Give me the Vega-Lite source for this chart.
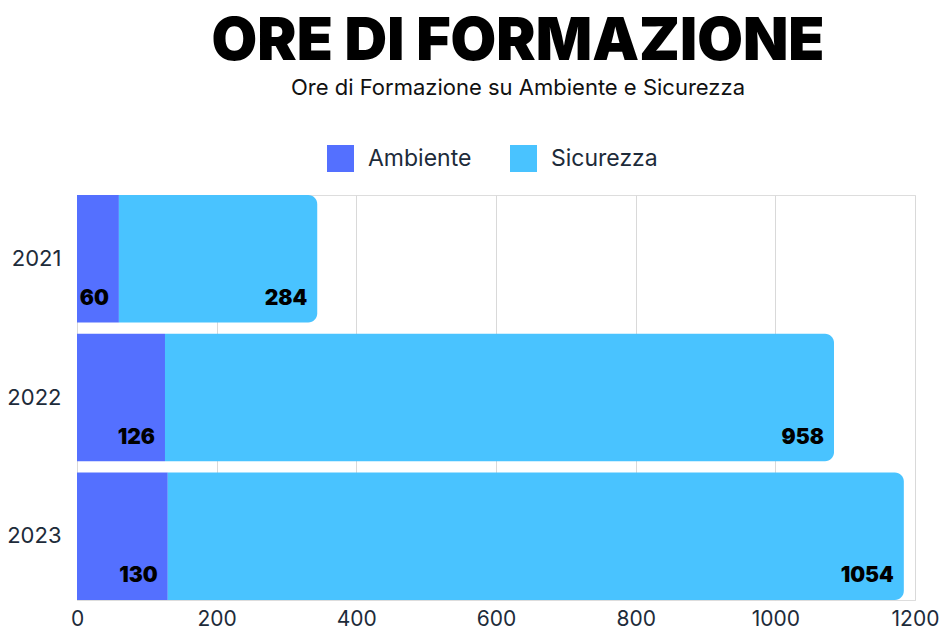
{
  "$schema": "https://vega.github.io/schema/vega-lite/v6.json",
  "width": 838,
  "height": 405,
  "autosize": {"type": "none"},
  "padding": {"left": 77, "top": 195, "right": 28, "bottom": 30},
  "background": "white",
  "title": {
    "text": "ORE DI FORMAZIONE",
    "subtitle": "Ore di Formazione su Ambiente e Sicurezza",
    "anchor": "middle",
    "dx": 22,
    "font": "Inter",
    "fontSize": 59,
    "fontWeight": 900,
    "color": "#000000",
    "subtitleFont": "Inter",
    "subtitleFontSize": 22,
    "subtitleColor": "#111111",
    "subtitlePadding": 6,
    "offset": 46
  },
  "data": {
    "values": [
      {"year": "2021", "category": "Ambiente", "value": 60, "order": 1},
      {"year": "2021", "category": "Sicurezza", "value": 284, "order": 2},
      {"year": "2022", "category": "Ambiente", "value": 126, "order": 1},
      {"year": "2022", "category": "Sicurezza", "value": 958, "order": 2},
      {"year": "2023", "category": "Ambiente", "value": 130, "order": 1},
      {"year": "2023", "category": "Sicurezza", "value": 1054, "order": 2}
    ]
  },
  "transform": [
    {"stack": "value", "groupby": ["year"], "sort": [{"field": "order", "order": "ascending"}], "as": ["x0", "x1"]}
  ],
  "encoding": {
    "y": {
      "field": "year",
      "type": "nominal",
      "sort": ["2021", "2022", "2023"],
      "scale": {"paddingInner": 0.08, "paddingOuter": 0},
      "axis": {
        "title": null,
        "domain": false,
        "ticks": false,
        "labelFont": "Inter",
        "labelFontSize": 22,
        "labelColor": "#1d2b3a",
        "labelPadding": 16
      }
    }
  },
  "layer": [
    {
      "transform": [{"filter": "datum.category === 'Ambiente'"}],
      "mark": {"type": "bar"},
      "encoding": {
        "x": {
          "field": "x0",
          "type": "quantitative",
          "scale": {"domain": [0, 1200], "nice": false},
          "axis": {
            "title": null,
            "values": [0, 200, 400, 600, 800, 1000, 1200],
            "format": "d",
            "domain": false,
            "ticks": false,
            "grid": true,
            "gridColor": "#d9d9d9",
            "gridWidth": 1,
            "labelFont": "Inter",
            "labelFontSize": 21,
            "labelColor": "#1d2b3a",
            "labelPadding": 8,
            "labelFlush": false
          }
        },
        "x2": {"field": "x1"},
        "color": {
          "field": "category",
          "type": "nominal",
          "scale": {"domain": ["Ambiente", "Sicurezza"], "range": ["#5470FF", "#49C3FF"]},
          "legend": {
            "title": null,
            "orient": "none",
            "legendX": 250,
            "legendY": -50,
            "direction": "horizontal",
            "symbolType": "square",
            "symbolSize": 729,
            "symbolStrokeWidth": 0,
            "symbolOpacity": 1,
            "labelFont": "Inter",
            "labelFontSize": 23,
            "labelColor": "#1d2b3a",
            "labelOffset": 14,
            "columnPadding": 38,
            "padding": 0
          }
        }
      }
    },
    {
      "transform": [{"filter": "datum.category === 'Sicurezza'"}],
      "mark": {"type": "bar", "cornerRadiusTopRight": 9, "cornerRadiusBottomRight": 9},
      "encoding": {
        "x": {"field": "x0", "type": "quantitative"},
        "x2": {"field": "x1"},
        "color": {"field": "category", "type": "nominal"}
      }
    },
    {
      "mark": {
        "type": "text",
        "align": "right",
        "baseline": "middle",
        "dx": -10,
        "yOffset": 40,
        "font": "Inter",
        "fontSize": 21,
        "fontWeight": 900,
        "color": "#000000"
      },
      "encoding": {
        "x": {"field": "x1", "type": "quantitative"},
        "text": {"field": "value", "type": "quantitative"}
      }
    }
  ]
}
